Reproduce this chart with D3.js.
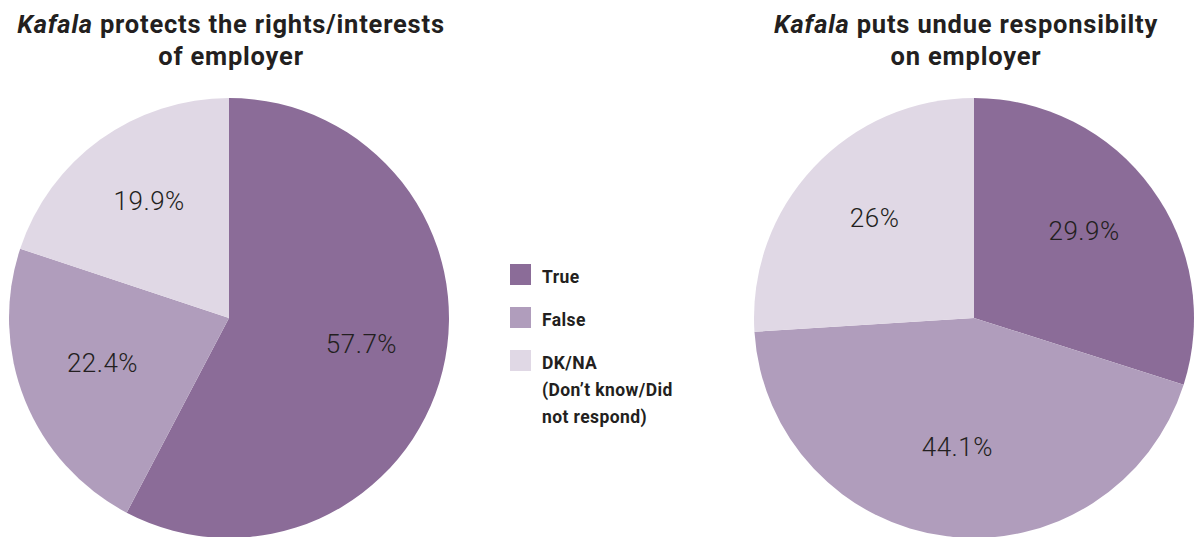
<!DOCTYPE html>
<html>
<head>
<meta charset="utf-8">
<script src="https://cdn.jsdelivr.net/npm/d3@7"></script>
<style>
	body { margin: 0; background: #fff; }
	text { font-family: Roboto, "Open Sans", sans-serif; fill: #231f20; }
	.title { font-weight: 700; font-size: 25.5px; letter-spacing: 0.8px; }
	.legend-label { font-weight: 700; font-size: 17.5px; letter-spacing: 0.4px; }
	.slice-label { font-weight: 300; font-size: 26px; letter-spacing: 0.5px; }
</style>
</head>
<body>
<div class="main"></div>
<script>
//Canvas config
var width = 1195;
var height = 537;
var radius = 220;

//data
var categories = ["True", "False", "DK/NA"];
var legendLines = [["True"], ["False"], ["DK/NA", "(Don\u2019t know/Did", "not respond)"]];
var protectsValues = [57.7, 22.4, 19.9];
var undueValues = [29.9, 44.1, 26];
var chartTitles = [["protects the rights/interests", "of employer"], ["puts undue responsibilty", "on employer"]];

var colour = d3.scaleOrdinal()
	.domain(categories)
	.range(["#8b6c98", "#b09dbc", "#e0d8e5"]);

var svg = d3.select(".main")
	.append("svg")
	.attr("width", width)
	.attr("height", height);

var pie = d3.pie()
	.sort(null)
	.value(function(d) { return d.value; });

var arc = d3.arc()
	.innerRadius(0)
	.outerRadius(radius);

var labelArc = d3.arc()
	.innerRadius(radius * 0.62)
	.outerRadius(radius * 0.62);

function drawPie(values, title, cx, titleX) {
	var data = categories.map(function(c, i) { return {cat: c, value: values[i]}; });
	var g = svg.append("g")
		.attr("transform", "translate(" + cx + "," + 318 + ")");

	g.selectAll("path")
		.data(pie(data))
		.enter()
		.append("path")
		.attr("d", arc)
		.style("fill", function(d) { return colour(d.data.cat); });

	g.selectAll(".slice-label")
		.data(pie(data))
		.enter()
		.append("text")
		.attr("class", "slice-label")
		.attr("text-anchor", "middle")
		.attr("dy", "0.1em")
		.attr("transform", function(d) { return "translate(" + labelArc.centroid(d) + ")"; })
		.text(function(d) { return d.data.value + "%"; });

	//title, "Kafala" in italics
	var t = svg.append("text")
		.attr("class", "title")
		.attr("text-anchor", "middle")
		.attr("x", titleX)
		.attr("y", 33);
	t.append("tspan").style("font-style", "italic").text("Kafala");
	t.append("tspan").text(" " + title[0]);
	svg.append("text")
		.attr("class", "title")
		.attr("text-anchor", "middle")
		.attr("x", titleX)
		.attr("y", 65)
		.text(title[1]);
}

drawPie(protectsValues, chartTitles[0], 229, 231);
drawPie(undueValues, chartTitles[1], 974, 966);

//legend
var legend = svg.append("g")
	.attr("transform", "translate(510,264)");
var item = legend.selectAll("g")
	.data(categories)
	.enter()
	.append("g")
	.attr("transform", function(d, i) { return "translate(0," + (i * 43) + ")"; });
item.append("rect")
	.attr("width", 21)
	.attr("height", 21)
	.style("fill", function(d) { return colour(d); });
item.each(function(d, i) {
	var txt = d3.select(this).append("text")
		.attr("class", "legend-label")
		.attr("x", 32)
		.attr("y", 19);
	txt.selectAll("tspan")
		.data(legendLines[i])
		.enter()
		.append("tspan")
		.attr("x", 32)
		.attr("dy", function(l, j) { return j === 0 ? 0 : 27; })
		.text(function(l) { return l; });
});
</script>
</body>
</html>
